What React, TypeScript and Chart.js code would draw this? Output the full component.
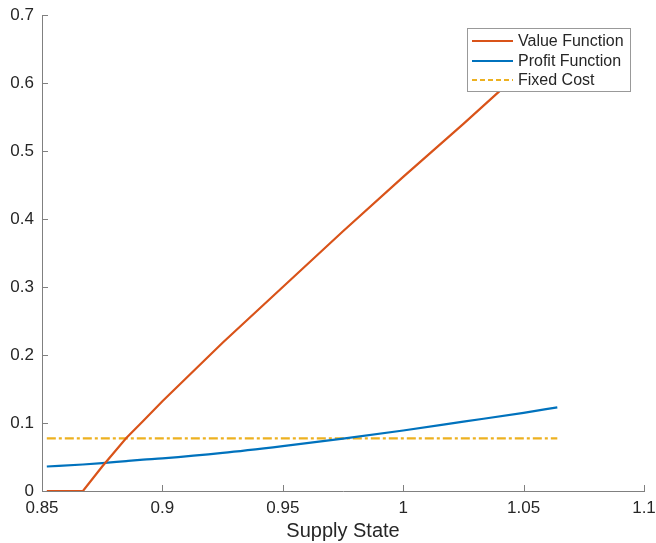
import React, { useEffect, useRef } from "react";
import { Chart, registerables } from "chart.js";

Chart.register(...registerables);

const xValue = [0.852, 0.867, 0.875, 0.885, 0.892, 0.9, 0.925, 0.95, 0.975, 1.0, 1.025, 1.05, 1.064];
const valueFunction = [0, 0, 0.036, 0.078, 0.103, 0.132, 0.218, 0.3, 0.382, 0.462, 0.54, 0.62, 0.664];
const profitFunction = [0.036, 0.039, 0.041, 0.044, 0.046, 0.048, 0.056, 0.066, 0.077, 0.089, 0.102, 0.115, 0.123];
const fixedCostX = [0.852, 1.064];
const fixedCost = [0.0775, 0.0775];
const seriesLabels = ["Value Function", "Profit Function", "Fixed Cost"];
const seriesColors = ["#D95319", "#0072BD", "#EDB120"];
const xTicks = [0.85, 0.9, 0.95, 1, 1.05, 1.1];
const yTicks = [0, 0.1, 0.2, 0.3, 0.4, 0.5, 0.6, 0.7];

const FONT = "'Liberation Sans', Arial, Helvetica, sans-serif";
const TEXT = "#262626";
const AXIS = "#808080";

const inwardTicks = {
  id: "inwardTicks",
  afterDatasetsDraw(chart: any) {
    const { ctx, chartArea, scales } = chart;
    ctx.save();
    ctx.strokeStyle = AXIS;
    ctx.lineWidth = 1;
    ctx.beginPath();
    for (const v of xTicks) {
      const px = Math.round(scales.x.getPixelForValue(v)) + 0.5;
      ctx.moveTo(px, chartArea.bottom);
      ctx.lineTo(px, chartArea.bottom - 6);
    }
    for (const v of yTicks) {
      const py = Math.round(scales.y.getPixelForValue(v)) + 0.5;
      ctx.moveTo(chartArea.left, py);
      ctx.lineTo(chartArea.left + 6, py);
    }
    ctx.stroke();
    ctx.restore();
  },
};

const boxLegend = {
  id: "boxLegend",
  afterDraw(chart: any) {
    const { ctx } = chart;
    const x0 = 467.5, y0 = 28.5, w = 163, h = 63;
    ctx.save();
    ctx.fillStyle = "#ffffff";
    ctx.fillRect(x0, y0, w, h);
    ctx.strokeStyle = "#999999";
    ctx.lineWidth = 1;
    ctx.strokeRect(x0, y0, w, h);
    const rows = [41, 61, 80];
    chart.data.datasets.forEach((ds: any, i: number) => {
      const y = rows[i];
      ctx.strokeStyle = ds.borderColor;
      ctx.lineWidth = 2;
      ctx.setLineDash(ds.borderDash ? [5, 3] : []);
      ctx.beginPath();
      ctx.moveTo(472, y);
      ctx.lineTo(513, y);
      ctx.stroke();
      ctx.setLineDash([]);
      ctx.fillStyle = TEXT;
      ctx.font = `16px ${FONT}`;
      ctx.textBaseline = "middle";
      ctx.textAlign = "left";
      ctx.fillText(ds.label, 518, y + 0.5);
    });
    ctx.restore();
  },
};

const fmt = (v: number) => String(Number(Number(v).toFixed(2)));

export default function App() {
  const ref = useRef<HTMLCanvasElement | null>(null);
  useEffect(() => {
    document.body.style.margin = "0";
    if (!ref.current) return;
    const chart = new Chart(ref.current, {
      type: "line",
      data: {
        datasets: [
          {
            label: seriesLabels[0],
            data: xValue.map((x, i) => ({ x, y: valueFunction[i] })),
            borderColor: seriesColors[0],
            borderWidth: 2.2,
            pointRadius: 0,
            tension: 0,
          },
          {
            label: seriesLabels[1],
            data: xValue.map((x, i) => ({ x, y: profitFunction[i] })),
            borderColor: seriesColors[1],
            borderWidth: 2.2,
            pointRadius: 0,
            cubicInterpolationMode: "monotone",
          },
          {
            label: seriesLabels[2],
            data: fixedCostX.map((x, i) => ({ x, y: fixedCost[i] })),
            borderColor: seriesColors[2],
            borderWidth: 2.2,
            borderDash: [9, 3, 3, 3],
            pointRadius: 0,
          },
        ],
      },
      options: {
        animation: false,
        responsive: false,
        layout: { padding: { top: 15, right: 12, left: 0, bottom: 0 } },
        plugins: { legend: { display: false }, tooltip: { enabled: false } },
        scales: {
          x: {
            type: "linear",
            min: 0.85,
            max: 1.1,
            afterFit: (s: any) => { s.height = 52; s.paddingLeft = 0; s.paddingRight = 0; },
            afterBuildTicks: (s: any) => { s.ticks = xTicks.map((v) => ({ value: v })); },
            grid: { display: false, drawTicks: false },
            border: { display: true, color: AXIS, width: 1 },
            ticks: { color: TEXT, font: { family: FONT, size: 17 }, padding: 7, callback: (v: any) => fmt(v), maxRotation: 0 },
            title: { display: true, text: "Supply State", color: TEXT, font: { family: FONT, size: 20 }, padding: { top: 0, bottom: 0 } },
          },
          y: {
            type: "linear",
            min: 0,
            max: 0.7,
            afterFit: (s: any) => { s.width = 42; s.paddingTop = 0; s.paddingBottom = 0; },
            afterBuildTicks: (s: any) => { s.ticks = yTicks.map((v) => ({ value: v })); },
            grid: { display: false, drawTicks: false },
            border: { display: true, color: AXIS, width: 1 },
            ticks: { color: TEXT, font: { family: FONT, size: 17 }, padding: 8, callback: (v: any) => fmt(v) },
          },
        },
      },
      plugins: [inwardTicks, boxLegend],
    });
    return () => chart.destroy();
  }, []);
  return (
    <div style={{ width: 656, height: 543 }}>
      <canvas ref={ref} width={656} height={543} />
    </div>
  );
}
